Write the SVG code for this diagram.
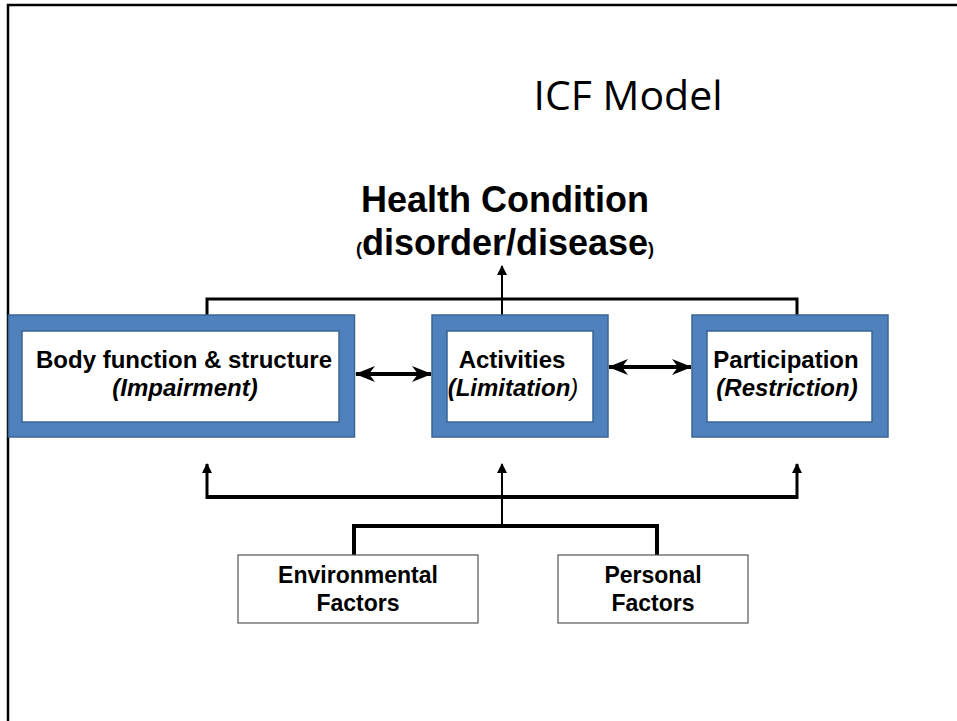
<svg xmlns="http://www.w3.org/2000/svg" width="957" height="721" viewBox="0 0 957 721">
<defs>
<style>
.frame{fill:none;stroke:#000;stroke-width:2.5}
.outer{fill:#4F81BD;stroke:#3A6494;stroke-width:1.5}
.inner{fill:#fff;stroke:#3A6494;stroke-width:1.5}
.fbox{fill:#fff;stroke:#555;stroke-width:1.2}
.t{font-family:"Liberation Sans",Arial,sans-serif;font-weight:bold;fill:#000;text-anchor:middle}
.ln{fill:none;stroke:#000;stroke-linejoin:miter}
</style>
<marker id="tip" viewBox="0 0 10 10" refX="9" refY="5" markerWidth="10" markerHeight="10" markerUnits="userSpaceOnUse" orient="auto">
<path d="M0,0 L10,5 L0,10 z" fill="#000"/>
</marker>
<marker id="barb" viewBox="0 0 20 16" refX="19" refY="8" markerWidth="20" markerHeight="16" markerUnits="userSpaceOnUse" orient="auto-start-reverse">
<path d="M0,0 L20,8 L0,16 L6,8 z" fill="#000"/>
</marker>
</defs>
<rect width="957" height="721" fill="#fff"/>
<path class="frame" d="M8,721 V5 H957"/>
<text x="628" y="110" style="font-family:'Open Sans','Liberation Sans',sans-serif;font-size:41px;fill:#000;text-anchor:middle">ICF Model</text>
<g id="health">
<text class="t" x="505" y="212" style="font-size:36px">Health Condition</text>
<text class="t" x="505" y="255" style="font-size:36px"><tspan style="font-size:18px">(</tspan>disorder/disease<tspan style="font-size:18px">)</tspan></text>
</g>
<g id="connectors">
<path class="ln" d="M207,315 V299 H797 V315" stroke-width="3"/>
<path class="ln" d="M502,315 V266" stroke-width="2" marker-end="url(#tip)"/>
<path class="ln" d="M356,374 H431" stroke-width="4" marker-start="url(#barb)" marker-end="url(#barb)"/>
<path class="ln" d="M609,367 H691" stroke-width="4" marker-start="url(#barb)" marker-end="url(#barb)"/>
<path class="ln" d="M207,497 H797" stroke-width="4"/>
<path class="ln" d="M207,499 V464" stroke-width="3" marker-end="url(#tip)"/>
<path class="ln" d="M797,499 V464" stroke-width="3" marker-end="url(#tip)"/>
<path class="ln" d="M502,526 V464" stroke-width="2" marker-end="url(#tip)"/>
<path class="ln" d="M354,555 V526 H657 V555" stroke-width="4"/>
</g>
<g id="body">
<rect class="outer" x="8.5" y="315" width="346" height="122"/>
<rect class="inner" x="22" y="331" width="317" height="91"/>
<text class="t" x="184" y="368" style="font-size:24px">Body function &amp; structure</text>
<text class="t" x="185" y="396" style="font-size:24px;font-style:italic">(Impairment)</text>
</g>
<g id="activities">
<rect class="outer" x="432" y="315" width="176" height="122"/>
<rect class="inner" x="447" y="331" width="146" height="91"/>
<text class="t" x="512" y="368" style="font-size:24px">Activities</text>
<text class="t" x="513" y="396" style="font-size:24px;font-style:italic">(Limitation<tspan style="font-weight:normal">)</tspan></text>
</g>
<g id="participation">
<rect class="outer" x="692" y="315" width="196" height="122"/>
<rect class="inner" x="707" y="331" width="165" height="91"/>
<text class="t" x="786" y="368" style="font-size:24px">Participation</text>
<text class="t" x="787" y="396" style="font-size:24px;font-style:italic">(Restriction)</text>
</g>
<g id="environmental">
<rect class="fbox" x="238" y="555" width="240" height="68"/>
<text class="t" x="358" y="583" style="font-size:23px">Environmental</text>
<text class="t" x="358" y="611" style="font-size:23px">Factors</text>
</g>
<g id="personal">
<rect class="fbox" x="558" y="555" width="190" height="68"/>
<text class="t" x="653" y="583" style="font-size:23px">Personal</text>
<text class="t" x="653" y="611" style="font-size:23px">Factors</text>
</g>
</svg>
